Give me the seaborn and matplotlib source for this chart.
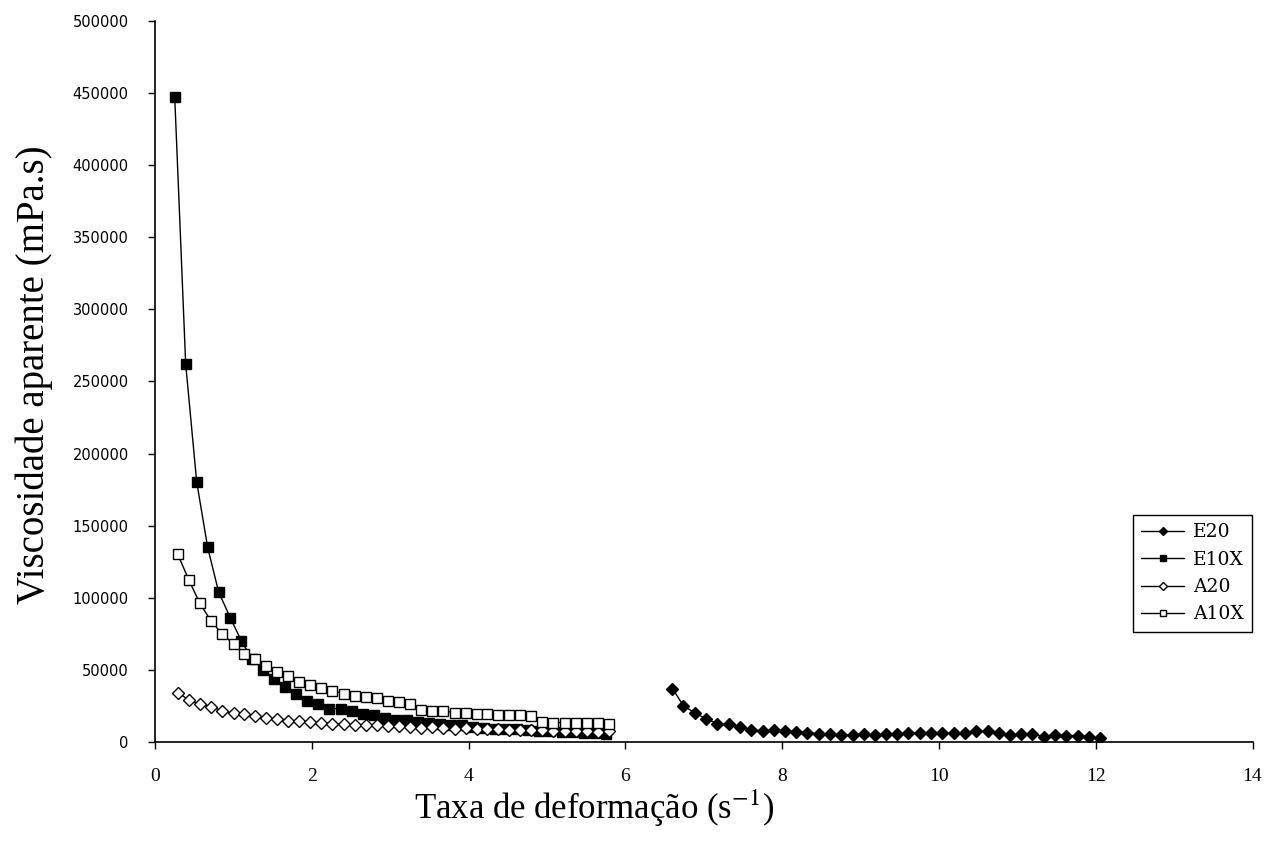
import pandas as pd
import matplotlib
matplotlib.use('Agg')
import matplotlib.pyplot as plt
import seaborn as sns

sns.set_style('ticks')
plt.rcParams['font.family'] = ['Liberation Serif', 'DejaVu Serif']
plt.rcParams['mathtext.fontset'] = 'stix'
plt.rcParams['text.color'] = 'black'
plt.rcParams['axes.labelcolor'] = 'black'

# shear rate grids
x_e = [0.25, 0.39, 0.53, 0.67, 0.81, 0.96, 1.10, 1.24, 1.38, 1.52,
       1.66, 1.80, 1.94, 2.08, 2.22, 2.37, 2.51, 2.65, 2.79, 2.93,
       3.07, 3.21, 3.35, 3.49, 3.63, 3.78, 3.92, 4.06, 4.20, 4.34,
       4.48, 4.62, 4.76, 4.90, 5.04, 5.19, 5.33, 5.47, 5.61, 5.75]
x_a = [0.29, 0.43, 0.57, 0.71, 0.85, 1.00, 1.14, 1.28, 1.42, 1.56,
       1.70, 1.84, 1.98, 2.12, 2.26, 2.41, 2.55, 2.69, 2.83, 2.97,
       3.11, 3.25, 3.39, 3.53, 3.67, 3.82, 3.96, 4.10, 4.24, 4.38,
       4.52, 4.66, 4.80, 4.94, 5.08, 5.23, 5.37, 5.51, 5.65, 5.79]
x_e20 = [6.60, 6.74, 6.89, 7.03, 7.17, 7.32, 7.46, 7.60, 7.75, 7.89,
         8.04, 8.18, 8.32, 8.47, 8.61, 8.75, 8.90, 9.04, 9.18, 9.33,
         9.47, 9.61, 9.76, 9.90, 10.04, 10.19, 10.33, 10.47, 10.62, 10.76,
         10.91, 11.05, 11.19, 11.34, 11.48, 11.62, 11.77, 11.91, 12.05]

# apparent viscosity (mPa.s)
e20 = [37000, 25000, 20000, 16000, 12700, 12200, 10400, 8300, 7600, 8300,
       7600, 6900, 6500, 5500, 5300, 5100, 4900, 5300, 4900, 5300,
       5300, 6000, 6000, 6000, 6000, 6000, 6500, 7200, 7600, 6000,
       4900, 5300, 5300, 3700, 4900, 4400, 4400, 3700, 2500]
e10x = [447500, 262000, 180500, 135000, 104000, 86000, 70000, 57500, 50000, 43700,
        38400, 33300, 28200, 26400, 23100, 23100, 21300, 19400, 18700, 16800,
        15300, 15000, 14100, 12900, 12200, 11800, 11600, 10200, 9500, 9000,
        8800, 8600, 8000, 7600, 7400, 7100, 6800, 6500, 6200, 5800]
a20 = [34200, 29100, 26100, 24500, 21700, 19900, 19200, 18200, 16800, 15700,
       14800, 14600, 13700, 13400, 12500, 12500, 11800, 11800, 11800, 11300,
       10800, 10200, 9800, 10500, 9800, 8900, 9400, 8900, 8900, 8900,
       8300, 8300, 8000, 8000, 7800, 7500, 7800, 7200, 7000, 7500]
a10x = [130000, 112300, 96200, 84100, 75100, 67900, 60800, 57300, 52700, 48800,
        45600, 41600, 39500, 37700, 35600, 33300, 31900, 31400, 30700, 28600,
        27500, 26600, 22200, 21500, 21500, 20300, 20300, 19600, 19600, 18400,
        18700, 18700, 17800, 14100, 13400, 13400, 13400, 13400, 13400, 12500]

fig, ax = plt.subplots(figsize=(12.82, 8.44), dpi=100)
fig.subplots_adjust(left=0.121, right=0.977, top=0.975, bottom=0.121)

series = [('E20', x_e20, e20, 'D', 'black', 6),
          ('E10X', x_e, e10x, 's', 'black', 6.5),
          ('A20', x_a, a20, 'D', 'white', 6),
          ('A10X', x_a, a10x, 's', 'white', 6.5)]
for name, xs, ys, mk, fc, ms in series:
    sns.lineplot(x=xs, y=ys, ax=ax, color='black', linewidth=1, marker=mk,
                 markersize=ms, markerfacecolor=fc, markeredgecolor='black',
                 markeredgewidth=1, label=name, sort=False)

ax.set_xlim(0, 14)
ax.set_ylim(0, 500000)
ax.set_xticks(range(0, 15, 2))
ax.set_yticks(range(0, 500001, 50000))
ax.set_yticklabels([str(v) for v in range(0, 500001, 50000)], family='DejaVu Sans', fontsize=10.5)
ax.set_xticklabels([str(v) for v in range(0, 15, 2)], fontsize=14)
ax.tick_params(direction='out', width=1, colors='black')
ax.tick_params(axis='y', length=5, pad=14)
ax.tick_params(axis='x', length=5, pad=14)
for s in ['top', 'right']:
    ax.spines[s].set_visible(False)
for s in ['left', 'bottom']:
    ax.spines[s].set_linewidth(1.2)
    ax.spines[s].set_color('black')

ax.set_xlabel('Taxa de deformação (s$^{-1}$)', fontsize=25, labelpad=2)
ax.xaxis.set_label_coords(0.40, -0.063)
ax.set_ylabel('Viscosidade aparente (mPa.s)', fontsize=28, labelpad=14)
ax.yaxis.set_label_coords(-0.093, 0.51)

leg = ax.legend(loc='lower left', bbox_to_anchor=(0.891, 0.1526),
                prop={'family': 'DejaVu Serif', 'size': 13.5},
                frameon=True, fancybox=False, edgecolor='black', framealpha=1,
                handlelength=2.3, borderpad=0.45, labelspacing=0.5, handletextpad=0.45,
                borderaxespad=0, markerscale=0.7)
leg.get_frame().set_linewidth(1)

fig.savefig('out.png', dpi=100)
